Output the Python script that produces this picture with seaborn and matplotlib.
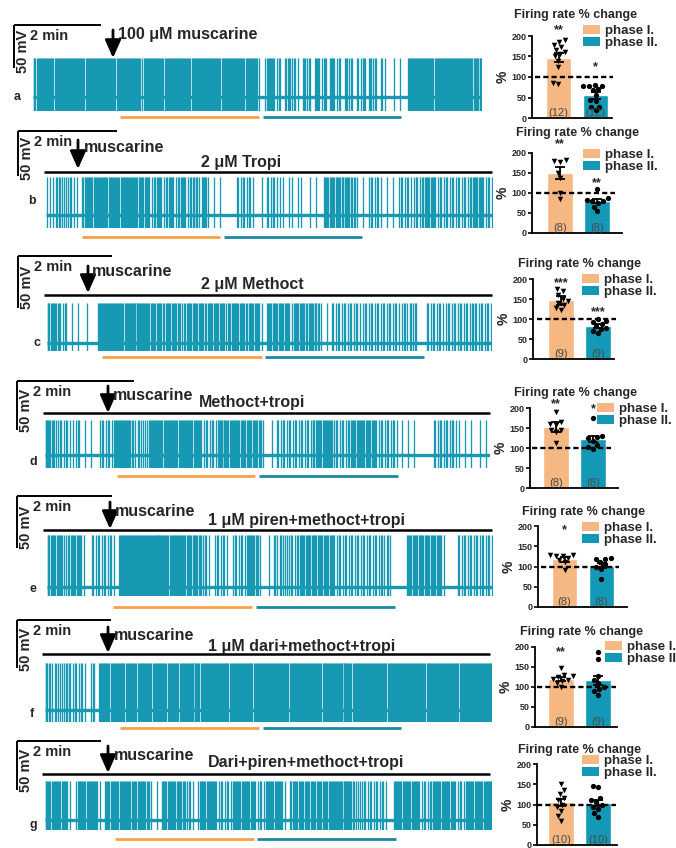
import matplotlib
matplotlib.use("Agg")
import matplotlib.pyplot as plt
import numpy as np
import pandas as pd
import seaborn as sns
from matplotlib.patches import Patch

sns.set_theme(style="ticks")
plt.rcParams["font.family"] = ["Liberation Sans", "DejaVu Sans"]

# ---------------------------------------------------------------- data
rows = ["a", "b", "c", "d", "e", "f", "g"]
phases = ["phase I.", "phase II."]

agonist_labels = ["100 μM muscarine", "muscarine", "muscarine", "muscarine",
                  "muscarine", "muscarine", "muscarine"]
antagonist_labels = ["", "2 μM Tropi", "2 μM Methoct", "Methoct+tropi",
                     "1 μM piren+methoct+tropi", "1 μM dari+methoct+tropi",
                     "Dari+piren+methoct+tropi"]

n_cells = [12, 8, 9, 8, 8, 9, 10]

phase1_mean = [147, 151, 147, 152, 118, 120, 105]
phase1_sem = [10.5, 15, 11, 12, 6, 6, 8]
phase2_mean = [55, 80, 83, 122, 102, 117, 104]
phase2_sem = [8, 5, 5, 8, 6, 11, 8]

phase1_points = [
    [190, 185, 178, 172, 165, 160, 155, 150, 140, 125, 85, 84],
    [208, 182, 180, 178, 150, 137, 99, 85],
    [175, 170, 160, 150, 145, 140, 135, 128, 123],
    [190, 165, 160, 158, 145, 140, 145, 112],
    [128, 128, 127, 125, 120, 115, 110, 92],
    [147, 130, 127, 125, 120, 118, 115, 110, 100],
    [150, 135, 125, 115, 110, 100, 95, 85, 72, 60],
]
phase2_points = [
    [80, 79, 78, 77, 70, 68, 57, 44, 42, 28, 26, 19],
    [109, 87, 82, 80, 79, 76, 66, 55],
    [100, 96, 92, 88, 82, 78, 75, 70, 64],
    [176, 131, 128, 125, 118, 108, 102, 98],
    [120, 119, 118, 112, 105, 98, 95, 69],
    [187, 170, 128, 118, 110, 100, 95, 90, 81],
    [145, 143, 115, 110, 105, 100, 95, 90, 80, 70],
]

phase1_stars = ["**", "**", "***", "**", "*", "**", ""]
phase1_star_y = [215, 222, 190, 210, 190, 187, 0]
phase2_stars = ["*", "**", "***", "*", "", "", ""]
phase2_star_y = [125, 124, 116, 197, 0, 0, 0]

# spike counts per 3-px time bin of each recording (0 = silent, 3 = burst)
spike_patterns = [
    "3233333233" "3333333233" "3333333233" "3333331333" "3332333333"
    "3323333333" "3323333333" "23333101" "3321202312" "1031203213"
    "0321203120" "2130312021" "0" "010100" "3333333323" "3333333333" "32333",
    "1112212121" "1" "0" "2" "3323333233323333323" "2321232123212321232123"
    "101010" "0000" "212121" "0010" "21211101" "10110010100" "32323232322"
    "10101212101010" "1212112123" "2321212121" "2121232321" "21",
    "323221201010" "01000" "3333333323333333" "3232322323" "2312323232"
    "2323232132" "323223232" "10" "3232323213" "23223232" "1010"
    "2121212121" "1212121212" "121121212" "000" "2121211212" "1212122121" "21",
    "332212121112" "010100" "12121" "333332" "212121" "333323" "33323333233"
    "212121" "333323" "323232323" "10010" "21212" "1212121" "3232333"
    "121212" "32332323" "2121212" "10101010" "00000" "21212121" "10101001010",
    "3232321232321" "00" "2121212" "10" "3333333333" "3333333233" "3"
    "3232323" "121012121012121" "3323" "10010" "212121212" "32323232323"
    "21212121212" "121212121" "00000" "323232323232" "10000" "212121212121",
    "32121212" "2121210120" "3332333323" "3323333233" "332333233"
    "3333323333" "3333233333" "3323333333" "3333233333" "3333323333"
    "3333332333" "3333333233" "3333333333" "2333333333" "3233333333" "333",
    "33233232" "101" "3323332" "10" "323323332323323" "1010" "32332323"
    "12101" "33233" "212121" "3323323" "2121" "332332" "10"
    "23232323232323" "3332333" "212121212121" "00" "33233233" "21212"
    "3323323" "2121" "332332333",
]

# ---------------------------------------------------------------- layout (pixels)
W, H = 676, 848
# trace: left, right, baseline y, spike height above, trough below
trace_geom = [(33, 482, 97, 39, 14), (46, 493, 215, 38, 13), (47, 492, 343, 40, 8),
              (45, 490, 455, 35, 13), (47, 493, 587, 52, 9), (45, 492, 710, 47, 12),
              (45, 492, 820, 39, 10)]
# scale bar: vertical x, top y, horizontal end x, vertical end y
scale_geom = [(14, 25, 101, 68), (18, 131, 117, 176), (18, 256, 112, 308),
              (17, 381, 134, 430), (17, 496, 112, 548), (17, 620, 111, 668),
              (17, 741, 101, 790)]
arrow_geom = [(113, 30, 58), (78, 140, 169), (88, 266, 293), (108, 386, 413),
              (110, 502, 529), (108, 627, 653), (108, 746, 773)]
agonist_pos = [(118, 35), (84, 147), (92, 271), (113, 395), (115, 512), (114, 636), (114, 756)]
antagonist_pos = [None, (241, 162), (252, 285), (252, 403), (307, 521), (302, 646), (306, 763)]
antagonist_bar = [None, (44, 492, 172), (44, 492, 295), (43, 490, 413), (43, 492, 530),
                  (42, 490, 654), (42, 490, 774)]
phase_bars = [(120, 259, 263, 401, 117), (82, 220, 224, 362, 237), (102, 262, 265, 424, 357),
              (117, 255, 259, 398, 476), (113, 252, 256, 395, 607), (120, 259, 263, 401, 728),
              (115, 254, 257, 396, 839)]
letter_pos = [(17, 97), (32, 201), (37, 343), (33, 462), (33, 589), (32, 714), (33, 825)]
# bar chart: axis left, axis right, y of 200, y of 0, centre of first bar
bar_geom = [(532, 612, 36, 118, 558.5), (532, 622, 153, 233, 560), (533, 614, 279, 359, 561),
            (530, 618, 408, 488, 556), (538, 627, 526, 607, 564.5), (535, 617, 647, 727, 561),
            (537, 617, 764, 845, 561)]
title_pos = [(575, 15), (577, 133), (580, 264), (575, 393), (583, 512), (581, 632), (580, 750)]
legend_pos = [(583, 25), (583, 149), (582, 274), (597, 403), (582, 522), (605, 641), (582, 755)]

TRACE = "#1799b4"
ORANGE_BAR = "#f5b883"
TEAL_BAR = "#1399b5"
ORANGE_LINE = "#f8a248"
TEAL_LINE = "#1a8aa4"
PITCH = 37.0   # pixels between bar centres

fig = plt.figure(figsize=(W / 100, H / 100), dpi=100)


def box(x0, y0, x1, y1):
    return [x0 / W, 1 - y1 / H, (x1 - x0) / W, (y1 - y0) / H]


# ---------------------------------------------------------------- recordings
offsets = {0: [], 1: [0.5], 2: [0.2, 0.55], 3: [0.17, 0.5, 0.83]}
for r in range(len(rows)):
    x0, x1, base, up, down = trace_geom[r]
    ax = fig.add_axes(box(x0, base - up, x1, base + down))
    pat = spike_patterns[r]
    xs = [i + o for i, ch in enumerate(pat) for o in offsets[int(ch)]]
    ax.vlines(xs, -down, up, color=TRACE, lw=0.95)
    ax.plot([0, len(pat)], [0, 0], color=TRACE, lw=2.4, solid_capstyle="butt")
    ax.set_xlim(0, len(pat))
    ax.set_ylim(-down, up)
    ax.axis("off")

# ---------------------------------------------------------------- summary bars
for r in range(len(rows)):
    a0, a1, y200, y0, c1 = bar_geom[r]
    ax = fig.add_axes(box(a0, y200, a1, y0))
    df = pd.DataFrame({"phase": phases, "mean": [phase1_mean[r], phase2_mean[r]]})
    sns.barplot(data=df, x="phase", y="mean", hue="phase", order=phases, hue_order=phases,
                palette=[ORANGE_BAR, TEAL_BAR], width=0.7, errorbar=None, legend=False,
                saturation=1, ax=ax)
    ax.errorbar([0, 1], df["mean"], yerr=[phase1_sem[r], phase2_sem[r]], fmt="none",
                ecolor="black", elinewidth=1.3, capsize=3.5, capthick=1.3, zorder=4)
    p1 = pd.DataFrame({"phase": phases[0], "val": phase1_points[r]})
    p2 = pd.DataFrame({"phase": phases[1], "val": phase2_points[r]})
    sns.swarmplot(data=p1, x="phase", y="val", order=phases, marker="v", color="black",
                  size=4.0, linewidth=0, ax=ax, zorder=5)
    sns.swarmplot(data=p2, x="phase", y="val", order=phases, marker="o", color="black",
                  size=3.8, linewidth=0, ax=ax, zorder=5)
    ax.plot([-0.64, 1.48], [100, 100], ls=(0, (2.2, 1.3)), lw=1.7, color="black",
            clip_on=False, zorder=6)
    for k, n in enumerate([n_cells[r], n_cells[r]]):
        ax.text(k, 13, f"({n})", ha="center", va="center", fontsize=8, color="#4a4a4a", zorder=7)
    if phase1_stars[r]:
        ax.text(0, phase1_star_y[r], phase1_stars[r], ha="center", va="center",
                fontsize=9, fontweight="bold", clip_on=False)
    if phase2_stars[r]:
        ax.text(1, phase2_star_y[r], phase2_stars[r], ha="center", va="center",
                fontsize=9, fontweight="bold", clip_on=False)
    ax.set_xlim(-(c1 - a0) / PITCH, 1 + (a1 - c1 - PITCH) / PITCH)
    ax.set_ylim(0, 200)
    ax.set_yticks([0, 50, 100, 150, 200])
    ax.set_yticklabels(["0", "50", "100", "150", "200"], fontsize=6.5, fontweight="bold")
    ax.set_xticks([])
    ax.set_xlabel("")
    ax.set_ylabel("%", fontsize=10, fontweight="bold", labelpad=1)
    ax.tick_params(axis="y", length=3, width=1.2, pad=1, color="black")
    sns.despine(ax=ax)
    for s in ("left", "bottom"):
        ax.spines[s].set_linewidth(1.3)
        ax.spines[s].set_color("black")
    ax.set_facecolor("none")
    tx, ty = title_pos[r]
    fig.text(tx / W, 1 - ty / H, "Firing rate % change", ha="center", va="center",
             fontsize=9, fontweight="bold")
    lx, ly = legend_pos[r]
    handles = [Patch(facecolor=ORANGE_BAR, edgecolor="none"),
               Patch(facecolor=TEAL_BAR, edgecolor="none")]
    ax.legend(handles, phases, loc="upper left", bbox_to_anchor=(lx / W, 1 - ly / H),
              bbox_transform=fig.transFigure, frameon=False,
              prop={"weight": "bold", "size": 9.5}, handlelength=1.3, handleheight=0.7,
              handletextpad=0.4, labelspacing=0.0, borderpad=0, borderaxespad=0)

# ---------------------------------------------------------------- annotations
ov = fig.add_axes([0, 0, 1, 1], zorder=5)
ov.set_xlim(0, W)
ov.set_ylim(H, 0)
ov.axis("off")
ov.patch.set_alpha(0)

for r in range(len(rows)):
    xv, yh, xe, yvb = scale_geom[r]
    ov.plot([xv, xe], [yh, yh], color="black", lw=1.4, solid_capstyle="butt")
    ov.plot([xv, xv], [yh, yvb], color="black", lw=1.4, solid_capstyle="butt")
    ov.text(xv + 16, yh + 11, "2 min", fontsize=10.5, fontweight="bold", ha="left", va="center")
    ov.text(xv + 9, (yh + yvb) / 2 + 5, "50 mV", fontsize=10.5, fontweight="bold",
            rotation=90, rotation_mode="anchor", ha="center", va="center")

    axx, ya, yb = arrow_geom[r]
    ov.annotate("", xy=(axx, yb), xytext=(axx, ya),
                arrowprops=dict(arrowstyle="-|>,head_length=0.9,head_width=0.4", lw=2,
                                color="black", shrinkA=0, shrinkB=0, mutation_scale=12))
    gx, gy = agonist_pos[r]
    ov.text(gx, gy, agonist_labels[r], fontsize=11.5, fontweight="bold", ha="left", va="center")

    if antagonist_pos[r] is not None:
        cx, cy = antagonist_pos[r]
        ov.text(cx, cy, antagonist_labels[r], fontsize=11.5, fontweight="bold",
                ha="center", va="center")
        bx0, bx1, by = antagonist_bar[r]
        ov.plot([bx0, bx1], [by, by], color="black", lw=1.8, solid_capstyle="butt")

    o0, o1, t0, t1, uy = phase_bars[r]
    ov.plot([o0, o1], [uy, uy], color=ORANGE_LINE, lw=2, solid_capstyle="butt")
    ov.plot([t0, t1], [uy, uy], color=TEAL_LINE, lw=2, solid_capstyle="butt")

    lx, ly = letter_pos[r]
    ov.text(lx, ly, rows[r], fontsize=9, fontweight="bold", ha="center", va="center")

fig.savefig("out.png", dpi=100)
